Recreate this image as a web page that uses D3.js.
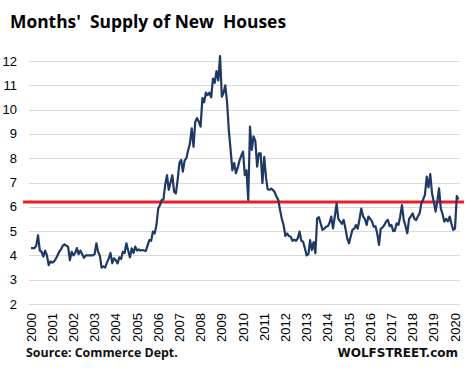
<!DOCTYPE html>
<html>
<head>
<meta charset="utf-8">
<script src="https://cdn.jsdelivr.net/npm/d3@7"></script>
<style>
  html, body { margin: 0; padding: 0; background: #fff; }
  svg { display: block; }
</style>
</head>
<body>
<div id="chart"></div>
<script>
// ---- Data (monthly months' supply of new houses, Jan 2000 onward) ----
const startYear = 2000;
const y2000 = [4.3, 4.3, 4.3, 4.4, 4.83, 4.2, 4.15, 3.95, 4.2, 4.0, 3.6, 3.75];
const y2001 = [3.7, 3.75, 3.85, 4.0, 4.15, 4.25, 4.4, 4.45, 4.4, 4.35, 3.8, 4.15];
const y2002 = [4.0, 4.1, 4.3, 4.05, 4.2, 4.05, 3.9, 4.0, 4.0, 4.0, 4.0, 4.0];
const y2003 = [4.05, 4.5, 4.15, 4.0, 3.5, 3.55, 3.5, 3.7, 3.88, 4.1, 3.68, 3.88];
const y2004 = [3.8, 3.67, 3.92, 3.85, 4.15, 4.1, 4.5, 4.2, 3.92, 4.29, 4.1, 4.36];
const y2005 = [4.2, 4.25, 4.2, 4.22, 4.2, 4.18, 4.4, 4.63, 4.6, 4.98, 4.9, 5.25];
const y2006 = [5.93, 6.07, 6.28, 6.3, 6.9, 7.3, 6.7, 7.0, 7.3, 6.62, 6.55, 7.1];
const y2007 = [7.8, 7.93, 7.45, 7.9, 8.0, 8.34, 8.6, 9.23, 8.47, 9.5, 9.65, 9.5];
const y2008 = [9.3, 10.47, 10.3, 10.7, 10.6, 10.7, 10.5, 11.28, 11.1, 11.58, 11.2, 12.2];
const y2009 = [10.53, 10.7, 11.0, 10.3, 9.16, 8.34, 7.5, 7.8, 7.38, 7.6, 7.9, 8.1];
const y2010 = [8.27, 7.3, 7.5, 6.28, 9.3, 8.34, 8.9, 8.7, 7.65, 8.2, 8.2, 6.97];
const y2011 = [8.06, 7.2, 6.72, 6.7, 6.75, 6.69, 6.6, 6.41, 6.28, 5.87, 5.5, 5.25];
const y2012 = [4.8, 4.9, 4.8, 4.77, 4.6, 4.65, 4.6, 4.7, 4.98, 4.6, 4.56, 4.3];
const y2013 = [4.0, 4.05, 4.63, 4.22, 4.55, 4.09, 5.53, 5.57, 5.3, 5.05, 5.1, 5.18];
const y2014 = [5.2, 5.35, 5.6, 5.11, 5.6, 6.14, 5.5, 5.4, 5.3, 5.46, 5.1, 4.7];
const y2015 = [4.5, 4.8, 5.05, 5.1, 5.25, 5.1, 5.5, 5.93, 5.6, 5.5, 5.25, 5.6];
const y2016 = [5.5, 5.4, 5.18, 5.2, 4.9, 4.43, 5.1, 5.15, 5.25, 5.4, 5.46, 5.2];
const y2017 = [5.25, 5.0, 5.02, 5.32, 5.25, 5.6, 6.07, 5.46, 5.2, 4.91, 5.5, 5.6];
const y2018 = [5.73, 5.5, 5.45, 5.6, 5.73, 6.14, 6.3, 6.49, 7.24, 6.8, 7.35, 6.56];
const y2019 = [6.2, 5.8, 6.2, 6.76, 5.93, 5.7, 5.39, 5.5, 5.4, 5.6, 5.3, 5.05];
const y2020 = [5.1, 6.44, 6.3];

const yearLabels = ["2000","2001","2002","2003","2004","2005","2006","2007","2008","2009","2010",
                    "2011","2012","2013","2014","2015","2016","2017","2018","2019","2020"];
const yTicks = [2, 3, 4, 5, 6, 7, 8, 9, 10, 11, 12];
const referenceLevel = 6.2;
const titleText = "Months'\u00A0 Supply of New\u00A0 Houses";
const sourceText = "Source: Commerce Dept.";
const brandText = "WOLFSTREET.com";

// ---- Build series ----
const yearRows = [y2000,y2001,y2002,y2003,y2004,y2005,y2006,y2007,y2008,y2009,y2010,
                  y2011,y2012,y2013,y2014,y2015,y2016,y2017,y2018,y2019,y2020];
const series = [];
yearRows.forEach((row, yi) => {
  row.forEach((v, mi) => series.push({ date: new Date(startYear + yi, mi, 1), value: v }));
});

// ---- Layout ----
const W = 469, H = 369;
const svg = d3.select("#chart").append("svg").attr("width", W).attr("height", H);
svg.append("rect").attr("width", W).attr("height", H).attr("fill", "#fff");

const x = d3.scaleTime()
  .domain([new Date(2000, 0, 1), new Date(2020, 0, 1)])
  .range([31, 455]);
const y = d3.scaleLinear().domain([2, 12]).range([304, 61]);

// gridlines
svg.append("g").selectAll("line").data(yTicks).join("line")
  .attr("x1", 29).attr("x2", 460)
  .attr("y1", d => Math.round(y(d)) + 0.5).attr("y2", d => Math.round(y(d)) + 0.5)
  .attr("stroke", "#d9d9d9").attr("stroke-width", 1);

// y labels
svg.append("g").selectAll("text").data(yTicks).join("text")
  .attr("x", 17).attr("y", d => y(d)).attr("dy", "0.35em")
  .attr("text-anchor", "end")
  .attr("font-family", "'Liberation Sans', Arial, sans-serif")
  .attr("font-size", 13).attr("fill", "#000")
  .text(d => d);

// x labels
svg.append("g").selectAll("text").data(yearLabels).join("text")
  .attr("transform", d => `translate(${x(new Date(+d, 0, 1))},313) rotate(-90)`)
  .attr("text-anchor", "end").attr("dy", "0.35em")
  .attr("font-family", "'Liberation Sans', Arial, sans-serif")
  .attr("font-size", 13).attr("fill", "#000")
  .text(d => d);

// reference line
svg.append("line")
  .attr("x1", 23).attr("x2", 464)
  .attr("y1", y(referenceLevel)).attr("y2", y(referenceLevel))
  .attr("stroke", "#ee1c25").attr("stroke-width", 3);

// data line
const line = d3.line().x(d => x(d.date)).y(d => y(d.value));
svg.append("path").datum(series)
  .attr("d", line)
  .attr("fill", "none")
  .attr("stroke", "#1f3864")
  .attr("stroke-width", 2.2)
  .attr("stroke-linejoin", "round");

// title
svg.append("text")
  .attr("x", 10).attr("y", 28)
  .attr("font-family", "'Open Sans', 'Liberation Sans', sans-serif")
  .attr("font-weight", "bold").attr("font-size", 17.4).attr("fill", "#000")
  .text(titleText);

// footer
svg.append("text")
  .attr("x", 26).attr("y", 357)
  .attr("font-family", "'Open Sans', 'Liberation Sans', sans-serif")
  .attr("font-weight", "bold").attr("font-size", 12.4).attr("fill", "#111")
  .text(sourceText);
svg.append("text")
  .attr("x", 458).attr("y", 357).attr("text-anchor", "end")
  .attr("font-family", "'DejaVu Sans', Verdana, sans-serif")
  .attr("font-weight", "bold").attr("font-size", 12).attr("fill", "#111")
  .text(brandText);
</script>
</body>
</html>
